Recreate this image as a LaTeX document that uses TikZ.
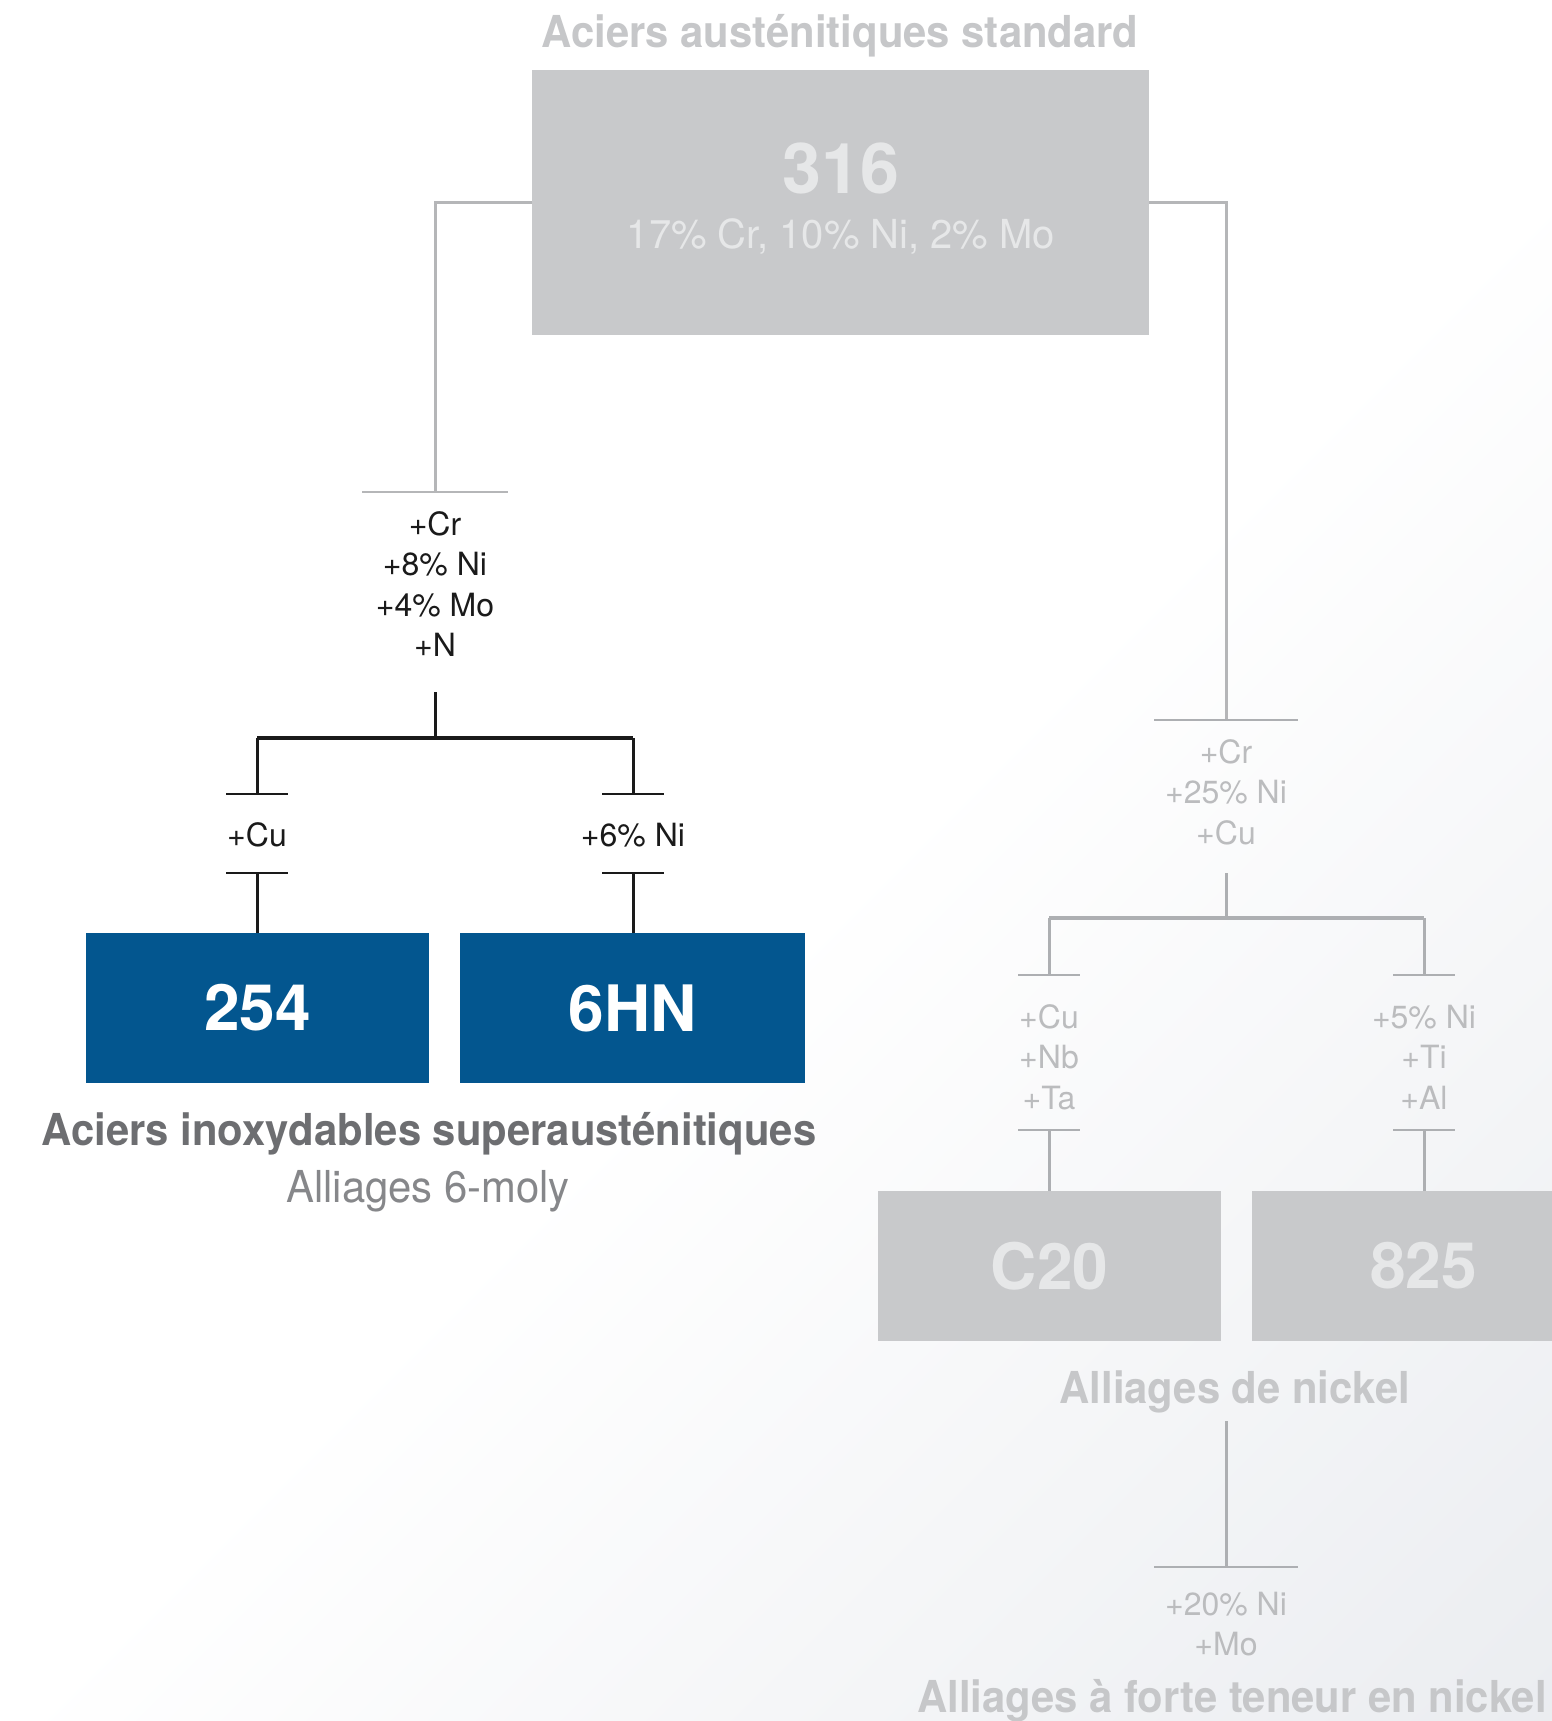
\documentclass[tikz,border=0pt]{standalone}
\usepackage{fontspec}
\setmainfont{TeX Gyre Heros}
\newfontfamily\headfont[FakeStretch=0.95]{TeX Gyre Heros}
\usetikzlibrary{calc}
\definecolor{boxgrey}{HTML}{C8C9CB}
\definecolor{boxtext}{HTML}{E6E7E8}
\definecolor{headgrey}{HTML}{C6C7C9}
\definecolor{linegrey}{HTML}{B5B6B8}
\definecolor{rlinegrey}{HTML}{ADAFB2}
\definecolor{rlabel}{HTML}{BBBCBE}
\definecolor{inkblack}{HTML}{1A1A1A}
\definecolor{steelblue}{HTML}{03568F}
\definecolor{darkhead}{HTML}{6D6E71}
\definecolor{subhead}{HTML}{86878A}
\definecolor{bgend}{HTML}{E2E5EA}
\pgfdeclarehorizontalshading{bgshade}{100bp}{color(0bp)=(white); color(52bp)=(white); color(100bp)=(bgend)}
\newcommand{\stacklines}[1]{\begin{tabular}[t]{@{}c@{}}#1\end{tabular}}
\begin{document}
\begin{tikzpicture}[x=1pt,y=-1pt,
  every node/.style={inner sep=0pt, outer sep=0pt},
  head/.style={anchor=base, font=\headfont\fontsize{44}{44}\selectfont\bfseries},
  lab/.style={anchor=base, font=\fontsize{32}{40.5}\selectfont},
  greybox/.style={fill=boxgrey, minimum width=343pt, minimum height=150pt, text=boxtext, font=\fontsize{64}{64}\selectfont\bfseries},
  bluebox/.style={fill=steelblue, minimum width=344pt, minimum height=150pt, text=white, font=\fontsize{64}{64}\selectfont\bfseries},
  gl/.style={draw=linegrey, line width=3pt},
  rl/.style={draw=rlinegrey, line width=3pt},
  bl/.style={draw=inkblack, line width=3pt},
  barline/.style={line width=2pt}
]
\useasboundingbox (0,0) rectangle (1552,1721);
\begin{scope}
\clip (0,0) rectangle (1552,1721);
\shade[shading=bgshade, shading angle=-45] (0,0) rectangle (1552,1721);

% ---- top box 316 ----
\node[head, text=headgrey] (title) at (840,47) {Aciers austénitiques standard};
\node[fill=boxgrey, minimum width=617pt, minimum height=265pt] (box316) at (840.5,202.5) {};
\node[anchor=base, text=boxtext, font=\fontsize{70}{70}\selectfont\bfseries] (t316) at (841,193) {316};
\node[anchor=base, text=boxtext, font=\fontsize{40}{40}\selectfont] (c316) at (841,248) {17\% Cr, 10\% Ni, 2\% Mo};

% ---- left branch ----
\coordinate (lb) at (435,492);
\draw[gl] (box316.west) -| (lb);
\draw[gl,barline] ($(lb)+(-73,0)$) -- ($(lb)+(73,0)$);
\node[lab, text=inkblack] (labA) at (435,535) {\stacklines{+Cr\\+8\% Ni\\+4\% Mo\\+N}};
\coordinate (ja) at (435,692);
\coordinate (jb) at (435,738);
\coordinate (jl) at (257,738);
\coordinate (jr) at (633,738);
\coordinate (bl1) at (257,794);
\coordinate (br1) at (633,794);
\draw[bl] (ja) -- (jb);
\draw[draw=inkblack, line width=4pt] (jl) -- (jr);
\draw[bl] (jl) -- (bl1);
\draw[bl] (jr) -- (br1);
\draw[draw=inkblack, barline] ($(bl1)+(-31,0)$) -- ($(bl1)+(31,0)$);
\draw[draw=inkblack, barline] ($(br1)+(-31,0)$) -- ($(br1)+(31,0)$);
\node[lab, text=inkblack] (labCu) at (257,846) {+Cu};
\node[lab, text=inkblack] (labNi) at (633,846) {+6\% Ni};
\coordinate (bl2) at (257,873);
\coordinate (br2) at (633,873);
\draw[draw=inkblack, barline] ($(bl2)+(-31,0)$) -- ($(bl2)+(31,0)$);
\draw[draw=inkblack, barline] ($(br2)+(-31,0)$) -- ($(br2)+(31,0)$);
\node[bluebox, minimum width=343pt] (b254) at (257.5,1008) {254};
\node[bluebox, minimum width=345pt] (b6hn) at (632.5,1008) {6HN};
\draw[bl] (bl2) -- (bl2 |- b254.north);
\draw[bl] (br2) -- (br2 |- b6hn.north);
\node[head, text=darkhead] (superaus) at (429,1145) {Aciers inoxydables superausténitiques};
\node[anchor=base, text=subhead, font=\headfont\fontsize{44}{44}\selectfont] (moly) at (428,1202) {Alliages 6-moly};

% ---- right branch ----
\coordinate (rb) at (1226,720);
\draw[gl] (box316.east) -| (rb);
\draw[rl,barline] ($(rb)+(-72,0)$) -- ($(rb)+(72,0)$);
\node[lab, text=rlabel] (labR) at (1226,763) {\stacklines{+Cr\\+25\% Ni\\+Cu}};
\coordinate (ka) at (1226,873);
\coordinate (kb) at (1226,918);
\coordinate (kl) at (1049,918);
\coordinate (kr) at (1424,918);
\coordinate (cl1) at (1049,975);
\coordinate (cr1) at (1424,975);
\draw[rl] (ka) -- (kb);
\draw[rl, line width=4pt] (kl) -- (kr);
\draw[rl] (kl) -- (cl1);
\draw[rl] (kr) -- (cr1);
\draw[rl,barline] ($(cl1)+(-31,0)$) -- ($(cl1)+(31,0)$);
\draw[rl,barline] ($(cr1)+(-31,0)$) -- ($(cr1)+(31,0)$);
\node[lab, text=rlabel] (labC20) at (1049,1028) {\stacklines{+Cu\\+Nb\\+Ta}};
\node[lab, text=rlabel] (lab825) at (1424,1028) {\stacklines{+5\% Ni\\+Ti\\+Al}};
\coordinate (cl2) at (1049,1130);
\coordinate (cr2) at (1424,1130);
\draw[rl,barline] ($(cl2)+(-31,0)$) -- ($(cl2)+(31,0)$);
\draw[rl,barline] ($(cr2)+(-31,0)$) -- ($(cr2)+(31,0)$);
\node[greybox] (bC20) at (1049.5,1266) {C20};
\node[greybox] (b825) at (1423.5,1266) {825};
\draw[rl] (cl2) -- (cl2 |- bC20.north);
\draw[rl] (cr2) -- (cr2 |- b825.north);
\node[head, text=headgrey] (nickel) at (1235,1403) {Alliages de nickel};
\coordinate (na) at (1226,1421);
\coordinate (nb) at (1226,1567);
\draw[rl] (na) -- (nb);
\draw[rl,barline] ($(nb)+(-72,0)$) -- ($(nb)+(72,0)$);
\node[lab, text=rlabel] (labHN) at (1226,1615) {\stacklines{+20\% Ni\\+Mo}};
\node[head, text=headgrey] (highni) at (1232,1712) {Alliages à forte teneur en nickel};
\end{scope}
\end{tikzpicture}
\end{document}
